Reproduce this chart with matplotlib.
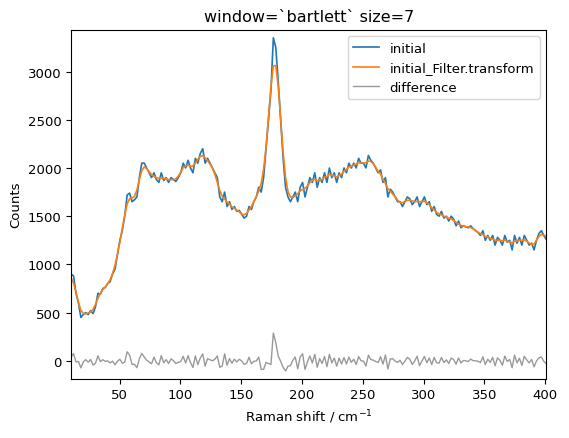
import numpy as np
import matplotlib
matplotlib.use("Agg")
import matplotlib.pyplot as plt

counts = [900, 880, 700, 600, 450, 480, 500, 480, 520, 490, 560, 700, 690, 750, 760, 800,
          820, 900, 950, 1100, 1250, 1350, 1500, 1720, 1740, 1650, 1670, 1700, 1900,
          2050, 2050, 2000, 1950, 1900, 1950, 1880, 1850, 1950, 1870, 1900, 1850,
          1900, 1880, 1860, 1900, 1950, 2050, 2000, 2080, 2000, 1950, 2100, 2050,
          2150, 2200, 2050, 2100, 2050, 2000, 1950, 1900, 1700, 1650, 1750, 1600, 1650, 1570,
          1600, 1550, 1560, 1520, 1480, 1500, 1600, 1570, 1650, 1700, 1800, 1750, 1900, 2200,
          2500, 2800, 3350, 3250, 2900, 2500, 2100, 1800, 1700, 1650, 1700, 1750, 1650, 1800, 1850,
          1700, 1800, 1900, 1850, 1950, 1800, 1900, 1850, 1950, 1850, 2000, 1900,
          1950, 1850, 1950, 1900, 2000, 1950, 2050, 2000, 2050, 2000, 2100, 2050,
          2050, 2000, 2130, 2080, 2050, 2000, 1950, 1980, 1850, 1900, 1700, 1780,
          1750, 1700, 1650, 1650, 1600, 1650, 1700, 1680, 1620, 1650, 1700, 1600,
          1650, 1700, 1620, 1650, 1550, 1600, 1520, 1500, 1550, 1480, 1500, 1450,
          1500, 1470, 1400, 1450, 1380, 1400, 1390, 1380, 1400, 1370, 1350, 1330,
          1300, 1350, 1250, 1300, 1250, 1300, 1200, 1280, 1250, 1200, 1300, 1230,
          1250, 1150, 1300, 1220, 1280, 1200, 1300, 1250, 1200, 1220, 1150, 1250,
          1320, 1350, 1300, 1260]
counts = np.array(counts, dtype=float)
shift = np.linspace(10, 401, len(counts))

w = np.bartlett(7)
filt = np.convolve(counts, w, mode="same") / np.convolve(np.ones_like(counts), w, mode="same")
diff = counts - filt

fig, ax = plt.subplots(figsize=(5.69, 4.39), dpi=100)
ax.plot(shift, counts, color="C0", lw=1.2, label="initial")
ax.plot(shift, filt, color="C1", lw=1.2, label="initial_Filter.transform")
ax.plot(shift, diff, color="gray", alpha=0.8, lw=1, label="difference")
ax.set_xlim(10, 401)
ax.set_ylim(-186, 3434)
ax.set_xlabel("Raman shift / cm$^{-1}$", fontsize=9.5)
ax.set_ylabel("Counts", fontsize=9.5)
ax.tick_params(labelsize=9.5)
ax.set_title("window=`bartlett` size=7", fontsize=11.5)
ax.legend(loc="upper right", fontsize=9.5)
fig.subplots_adjust(left=0.125, right=0.96, top=0.93, bottom=0.135)
fig.savefig("out.png", dpi=100)
